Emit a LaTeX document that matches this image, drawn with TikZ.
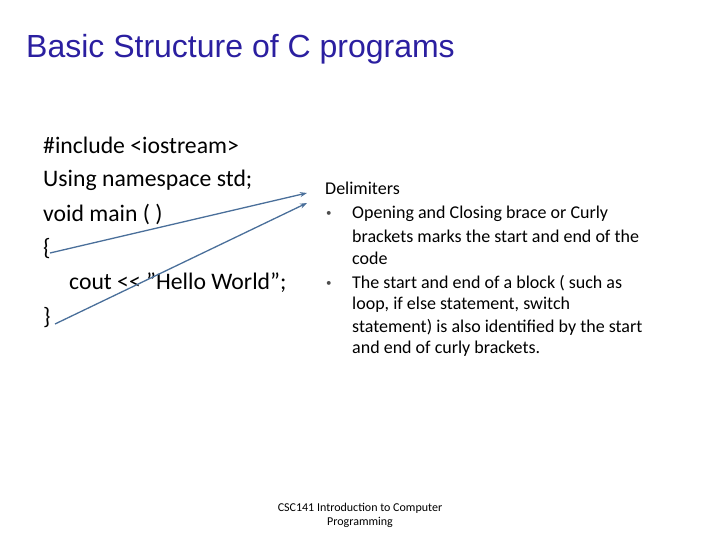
\documentclass[tikz,border=0pt]{standalone}
\usepackage{fontspec}
\setmainfont{Carlito}
\newfontfamily\titlefont{Liberation Sans}
\usetikzlibrary{arrows.meta}
\definecolor{titleblue}{HTML}{2B1FA0}
\definecolor{arrowblue}{HTML}{4A6F9A}
\tikzset{code/.style={anchor=west,inner sep=0pt,font=\fontsize{23.7}{24}\selectfont},
 txt/.style={anchor=west,inner sep=0pt,font=\fontsize{18}{18}\selectfont},
 bul/.style={anchor=west,inner sep=0pt,text=black!70,font=\fontsize{11}{11}\selectfont},
 arr/.style={draw=arrowblue,line width=1.3pt,-{Stealth[length=7pt,width=5pt]}}}
\begin{document}
\begin{tikzpicture}[x=1pt,y=-1pt]
\useasboundingbox (0,0) rectangle (720,540);
\node[anchor=west,inner sep=0pt,text=titleblue,font=\titlefont\fontsize{32}{32}\selectfont] (title) at (26,49) {Basic Structure of C programs};
\node[code] (l1) at (43,145) {\#include <iostream>};
\node[code] (l2) at (43,180) {Using namespace std;};
\node[code] (l3) at (43,214) {void main ( )};
\node[code] (l4) at (43,249) {\{};
\node[code] (l5) at (69,283) {cout <{}< ”Hello World”;};
\node[code] (l6) at (43,318) {\}};
\node[txt] (d) at (325,188) {Delimiters};
\node[bul] (b1) at (326,214) {\textbullet};
\node[bul] (b2) at (326,284) {\textbullet};
\node[txt] (a1) at (352,214) {Opening and Closing brace or Curly};
\node[txt] (a2) at (352,236) {brackets marks the start and end of the};
\node[txt] (a3) at (352,258) {code};
\node[txt] (c1) at (352,283) {The start and end of a block ( such as};
\node[txt] (c2) at (352,305) {loop, if else statement, switch};
\node[txt] (c3) at (352,327) {statement) is also identified by the start};
\node[txt] (c4) at (352,349) {and end of curly brackets.};
\coordinate (e1) at (307,193);
\coordinate (e2) at (307,203);
\coordinate (s1) at (50,253);
\coordinate (s2) at (55,324);
\draw[arr] (s1) -- (e1);
\draw[arr] (s2) -- (e2);
\node[align=center,inner sep=0pt,font=\fontsize{12}{14}\selectfont] (f) at (360,515) {CSC141 Introduction to Computer\\Programming};
\end{tikzpicture}
\end{document}
